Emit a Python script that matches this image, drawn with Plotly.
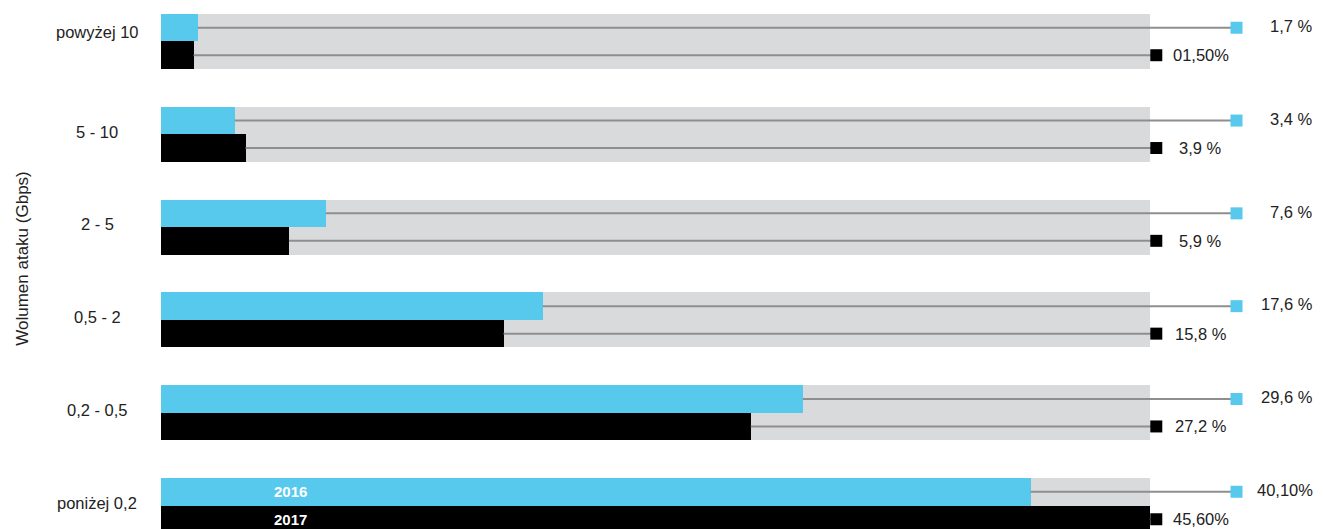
import plotly.graph_objects as go

# Attack volume ranges (Gbps), listed from top to bottom
categories = ["powyżej 10", "5 - 10", "2 - 5", "0,5 - 2", "0,2 - 0,5", "poniżej 0,2"]
values_2016 = [1.7, 3.4, 7.6, 17.6, 29.6, 40.1]
values_2017 = [1.5, 3.9, 5.9, 15.8, 27.2, 45.6]
labels_2016 = ["1,7 %", "3,4 %", "7,6 %", "17,6 %", "29,6 %", "40,10%"]
labels_2017 = ["01,50%", "3,9 %", "5,9 %", "15,8 %", "27,2 %", "45,60%"]
series_names = ["2016", "2017"]

CYAN = "#57c9ed"
BLACK = "#000000"
TRACK = "#d9dadc"
LINE = "#8e8e8e"
FONT = "Liberation Sans, Arial, sans-serif"

track_max = max(values_2017 + values_2016)
marker_x_2016 = 49.6
marker_x_2017 = 45.9
label_x_2016 = 53.2
label_x_2017 = 47.95
x_max = 53.45

half = 0.148   # offset of each series bar from the group centre
bar_w = 0.296  # bar thickness in group units

idx = list(range(len(categories)))
y16 = [i - half for i in idx]
y17 = [i + half for i in idx]

fig = go.Figure()

# grey background track behind each group
fig.add_trace(go.Bar(
    x=[track_max] * len(idx), y=idx, orientation="h", width=2 * bar_w,
    marker=dict(color=TRACK, line=dict(width=0)), hoverinfo="skip", showlegend=False,
))

# leader lines from bar end to the end marker
for ys, vals, mx in ((y16, values_2016, marker_x_2016), (y17, values_2017, marker_x_2017)):
    for y, v in zip(ys, vals):
        fig.add_trace(go.Scatter(
            x=[v, mx], y=[y, y], mode="lines",
            line=dict(color=LINE, width=2), hoverinfo="skip", showlegend=False,
        ))

# data bars
fig.add_trace(go.Bar(
    x=values_2016, y=y16, orientation="h", width=bar_w, name=series_names[0],
    marker=dict(color=CYAN, line=dict(width=0)), showlegend=False,
))
fig.add_trace(go.Bar(
    x=values_2017, y=y17, orientation="h", width=bar_w, name=series_names[1],
    marker=dict(color=BLACK, line=dict(width=0)), showlegend=False,
))

# square end markers
fig.add_trace(go.Scatter(
    x=[marker_x_2016] * len(idx), y=y16, mode="markers",
    marker=dict(symbol="square", size=12, color=CYAN), hoverinfo="skip", showlegend=False,
))
fig.add_trace(go.Scatter(
    x=[marker_x_2017] * len(idx), y=y17, mode="markers",
    marker=dict(symbol="square", size=12, color=BLACK), hoverinfo="skip", showlegend=False,
))

annotations = []
# value labels
for y, t in zip(y16, labels_2016):
    annotations.append(dict(x=label_x_2016, y=y - 0.02, xref="x", yref="y", text=t,
                            showarrow=False, xanchor="right",
                            font=dict(family=FONT, size=16.5, color="#222222")))
for y, t in zip(y17, labels_2017):
    annotations.append(dict(x=label_x_2017, y=y, xref="x", yref="y", text=t,
                            showarrow=False, xanchor="center",
                            font=dict(family=FONT, size=16.5, color="#222222")))
# category labels
for i, c in zip(idx, categories):
    annotations.append(dict(x=-0.055, y=i - (0.1 if i == 0 else 0.03), xref="paper", yref="y",
                            text=c, showarrow=False, xanchor="center",
                            font=dict(family=FONT, size=16.5, color="#222222")))
# series names inside the last group's bars
last = idx[-1]
for y, name in ((y16[last], series_names[0]), (y17[last], series_names[1])):
    annotations.append(dict(x=5.95, y=y, xref="x", yref="y", text="<b>" + name + "</b>",
                            showarrow=False, xanchor="center",
                            font=dict(family=FONT, size=15, color="#ffffff")))
# axis title
annotations.append(dict(x=-0.119, y=2.34, xref="paper", yref="y",
                        text="Wolumen ataku (Gbps)", textangle=-90, showarrow=False,
                        xanchor="center", yanchor="middle",
                        font=dict(family=FONT, size=17, color="#222222")))

fig.update_layout(
    width=1323, height=529,
    margin=dict(l=161, r=3, t=0, b=0),
    paper_bgcolor="white", plot_bgcolor="white",
    barmode="overlay", bargap=0,
    xaxis=dict(range=[0, x_max], visible=False, fixedrange=True),
    yaxis=dict(range=[5.253, -0.447], visible=False, fixedrange=True),
    annotations=annotations,
)

fig.write_html("out.html")
